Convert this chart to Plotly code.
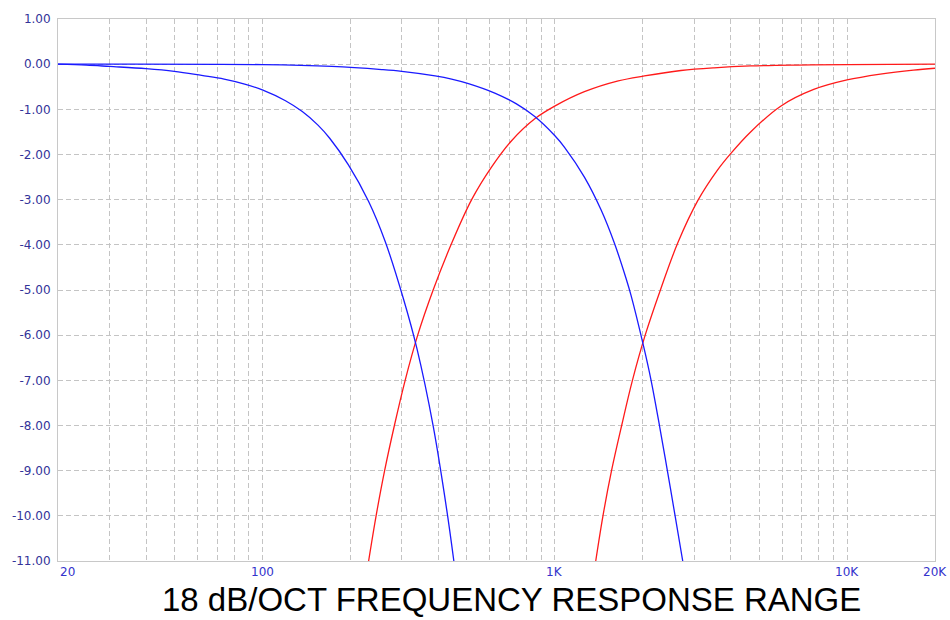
import numpy as np
import plotly.graph_objects as go

# Crossover response curves: frequency (Hz) and level (dB)
lp_low_freq = [20, 25, 30, 40, 50, 62, 74, 87, 100, 120, 137, 155, 170, 197, 231, 263, 304, 338, 384, 427, 452]
lp_low_db = [0.00, -0.02, -0.05, -0.10, -0.16, -0.25, -0.33, -0.44, -0.57, -0.81, -1.05, -1.35, -1.64, -2.23,
             -3.04, -3.92, -5.20, -6.30, -8.01, -9.85, -11.0]

lp_high_freq = [20, 100, 173, 256, 300, 390, 444, 507, 624, 740, 855, 1000, 1081, 1264, 1442, 1600, 1754, 1825,
                2015, 2137, 2290, 2437, 2590, 2742]
lp_high_db = [0.00, -0.01, -0.05, -0.12, -0.16, -0.26, -0.33, -0.43, -0.64, -0.88, -1.16, -1.58, -1.84, -2.50,
              -3.23, -3.96, -4.74, -5.12, -6.25, -7.00, -8.05, -9.05, -10.05, -11.0]

hp_low_freq = [231, 245, 262, 283, 308, 340, 384, 442, 520, 608, 711, 855, 1000, 1264, 1650, 2028, 2704, 3510,
               4680, 6760, 10000, 20000]
hp_low_db = [-11.0, -10.0, -9.0, -8.0, -7.0, -6.0, -5.0, -4.0, -3.0, -2.28, -1.70, -1.21, -0.93, -0.61, -0.37,
             -0.26, -0.14, -0.08, -0.04, -0.02, -0.01, 0.00]

hp_high_freq = [1382, 1463, 1565, 1695, 1845, 2040, 2300, 2636, 3100, 3600, 4000, 4680, 5930, 7695, 10000,
                13000, 16880, 20000]
hp_high_db = [-11.0, -10.0, -9.0, -8.0, -7.0, -6.0, -5.0, -3.96, -3.00, -2.35, -1.98, -1.50, -0.93, -0.56, -0.35,
              -0.22, -0.13, -0.09]

# Axis ticks and grid positions
y_ticks = [1, 0, -1, -2, -3, -4, -5, -6, -7, -8, -9, -10, -11]
y_labels = ["1.00", "0.00", "-1.00", "-2.00", "-3.00", "-4.00", "-5.00", "-6.00",
            "-7.00", "-8.00", "-9.00", "-10.00", "-11.00"]
x_grid = [20, 30, 40, 50, 60, 70, 80, 90,
          100, 200, 300, 400, 500, 600, 700, 800, 900,
          1000, 2000, 3000, 4000, 5000, 6000, 7000, 8000, 9000,
          10000, 20000]
x_label_vals = [20, 100, 1000, 10000, 20000]
x_label_text = ["20", "100", "1K", "10K", "20K"]

title_text = "18 dB/OCT FREQUENCY RESPONSE RANGE"

RED = "#ff1a1a"
BLUE = "#1a1aff"
GRID = "#c4c4c4"
FRAME = "#c8c8c8"

fig = go.Figure()
for fx, fy, col in [(hp_low_freq, hp_low_db, RED), (hp_high_freq, hp_high_db, RED),
                    (lp_low_freq, lp_low_db, BLUE), (lp_high_freq, lp_high_db, BLUE)]:
    fig.add_trace(go.Scatter(x=fx, y=fy, mode="lines",
                             line=dict(color=col, width=1.3, shape="spline", smoothing=1.0),
                             hoverinfo="skip", showlegend=False))

fig.update_layout(
    width=950, height=620,
    margin=dict(l=55, r=15, t=14, b=59),
    paper_bgcolor="white", plot_bgcolor="white",
    showlegend=False,
)
fig.update_xaxes(
    type="log", range=[np.log10(20), np.log10(20000)],
    tickmode="array", tickvals=x_grid, showticklabels=False, ticks="",
    showgrid=True, gridcolor=GRID, griddash="5px,3px", gridwidth=1,
    showline=True, linecolor=FRAME, linewidth=1, mirror=True, zeroline=False,
)
fig.update_yaxes(
    range=[-11, 1], tickmode="array", tickvals=y_ticks, ticktext=y_labels,
    ticks="", ticklabelstandoff=4,
    tickfont=dict(family="DejaVu Sans", size=12, color="#333399"),
    showgrid=True, gridcolor=GRID, griddash="5px,3px", gridwidth=1,
    showline=True, linecolor=FRAME, linewidth=1, mirror=True, zeroline=False,
)

for val, txt in zip(x_label_vals, x_label_text):
    fig.add_annotation(
        x=np.log10(val), xref="x", y=0, yref="paper",
        text=txt, showarrow=False,
        xanchor="left" if val == 20 else "center", yanchor="top", yshift=-2,
        font=dict(family="DejaVu Sans", size=12, color="#3333cc"),
    )

fig.add_annotation(
    x=(510 - 55) / 880, xref="paper", y=0, yref="paper",
    text=title_text, showarrow=False, xanchor="center", yanchor="bottom",
    yshift=-58, borderpad=0,
    font=dict(family="Liberation Sans, Arial", size=33, color="black"),
)

fig.write_html("out.html")
